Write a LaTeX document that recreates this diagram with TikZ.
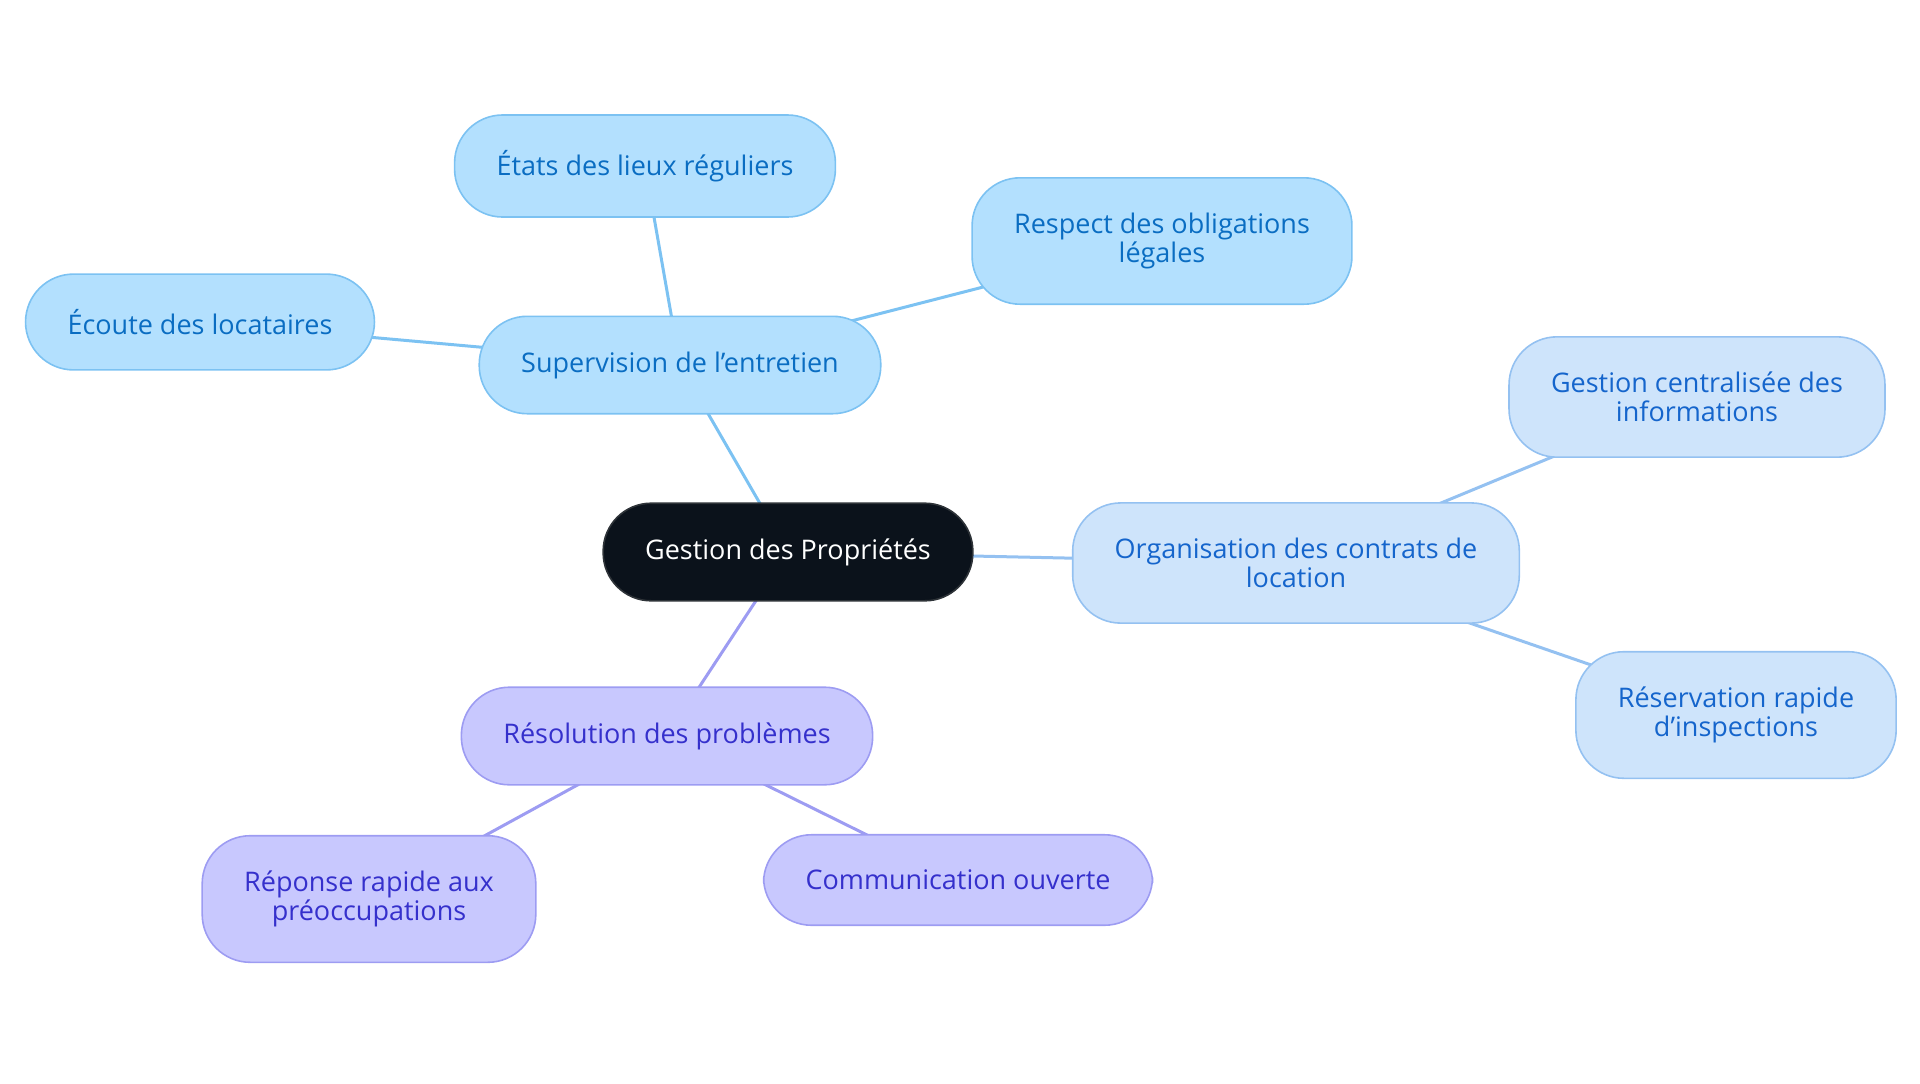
\documentclass[tikz,border=0pt]{standalone}
\usepackage{fontspec}
\setmainfont{Open Sans}
\usetikzlibrary{positioning}
\usetikzlibrary{backgrounds}
\definecolor{supfill}{HTML}{B3E0FE}
\definecolor{supline}{HTML}{7CC2F2}
\definecolor{suptext}{HTML}{0A6DC2}
\definecolor{orgfill}{HTML}{CEE4FB}
\definecolor{orgline}{HTML}{94C1F1}
\definecolor{orgtext}{HTML}{1565CC}
\definecolor{resfill}{HTML}{C8C8FE}
\definecolor{resline}{HTML}{9D9CF2}
\definecolor{restext}{HTML}{3530CC}
\definecolor{rootfill}{HTML}{0B121B}
\definecolor{rootline}{HTML}{2E3338}

\begin{document}
\begin{tikzpicture}[x=0.5pt, y=-0.5pt,
        n/.style={rounded corners=24pt, draw, line width=0.8pt, align=center,
            inner xsep=21pt, inner ysep=17.6pt, outer sep=0pt,
            font=\fontsize{13.5}{14.5}\selectfont},
        root/.style={n, fill=rootfill, draw=rootline, text=white},
        sup/.style={n, fill=supfill, draw=supline, text=suptext},
        org/.style={n, fill=orgfill, draw=orgline, text=orgtext},
        res/.style={n, fill=resfill, draw=resline, text=restext},
        link/.style={line width=1.5pt}]
            \useasboundingbox (0, 0) rectangle (1920, 1083);

            \node[root] (gp) at (788, 552) {Gestion des Propriétés};

            \node[sup] (sup) at (680, 365) {Supervision de l’entretien};
            \node[sup] (etats) at (645, 166) {États des lieux réguliers};
            \node[sup] (resp) at (1162, 241) {Respect des obligations\\légales};
            \node[sup] (ecoute) at (200, 322) {Écoute des locataires};

            \node[org] (org) at (1296, 563) {Organisation des contrats de\\location};
            \node[org] (centr) at (1697, 397) {Gestion centralisée des\\informations};
            \node[org] (reserv) at (1736, 715) {Réservation rapide\\d’inspections};

            \node[res] (resol) at (667, 736) {Résolution des problèmes};
            \node[res] (repon) at (369, 899) {Réponse rapide aux\\préoccupations};
            \node[res] (comm) at (958, 880) {Communication ouverte};

            \begin{scope}[on background layer]
                \draw[link, supline] (gp.center) -- (sup.center);
                \draw[link, supline] (sup.center) -- (etats.center);
                \draw[link, supline] (sup.center) -- (resp.center);
                \draw[link, supline] (sup.center) -- (ecoute.center);
                \draw[link, orgline] (gp.center) -- (org.center);
                \draw[link, orgline] (org.center) -- (centr.center);
                \draw[link, orgline] (org.center) -- (reserv.center);
                \draw[link, resline] (gp.center) -- (resol.center);
                \draw[link, resline] (resol.center) -- (repon.center);
                \draw[link, resline] (resol.center) -- (comm.center);
            \end{scope}
        \end{tikzpicture}
\end{document}
